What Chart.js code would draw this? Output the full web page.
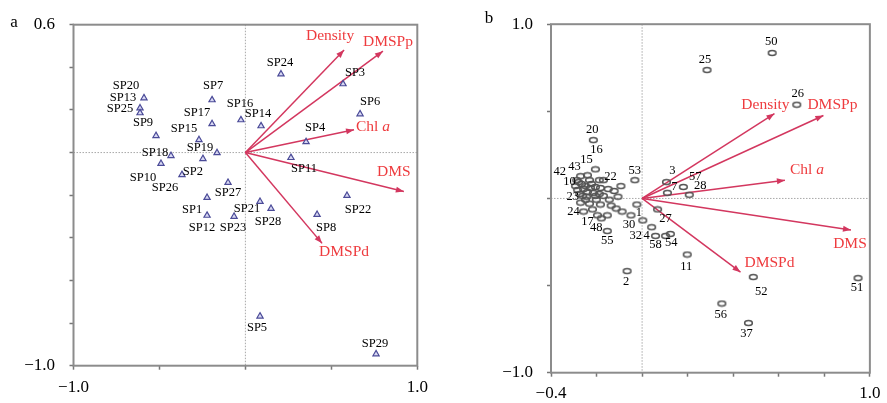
<!DOCTYPE html>
<html><head><meta charset="utf-8">
<script src="https://cdn.jsdelivr.net/npm/chart.js@4/dist/chart.umd.min.js"></script>
<style>
html,body{margin:0;padding:0;background:#fff;overflow:hidden}
#wrap{position:relative;width:887px;height:403px}
canvas{position:absolute;top:0}
#ca{left:0}
#cb{left:443px}
</style></head><body>
<div id="wrap"><canvas id="ca" width="443" height="403"></canvas><canvas id="cb" width="444" height="403"></canvas></div>
<script>
// ---------- Panel a : species (triangles) ----------
const speciesLabels = ['SP1','SP2','SP3','SP4','SP5','SP6','SP7','SP8','SP9','SP10','SP11','SP12','SP13','SP14','SP15','SP16','SP17','SP18','SP19','SP20','SP21','SP22','SP23','SP24','SP25','SP26','SP27','SP28','SP29'];
const speciesX = [-0.223,-0.247,0.568,0.353,0.085,0.667,-0.194,0.417,-0.520,-0.491,0.265,-0.223,-0.613,0.091,-0.270,-0.026,-0.194,-0.433,-0.165,-0.590,0.085,0.591,-0.066,0.207,-0.613,-0.369,-0.101,0.149,0.760];
const speciesY = [-0.211,-0.029,0.322,0.050,-0.768,0.181,0.247,-0.291,0.079,-0.052,-0.024,-0.295,0.209,0.125,0.060,0.153,0.135,-0.015,-0.001,0.256,-0.230,-0.202,-0.300,0.368,0.186,-0.104,-0.141,-0.263,-0.945];
const envLabels = ['Density','DMSPp','Chl a','DMS','DMSPd'];
const envAX = [0.574,0.800,0.632,0.922,0.446];
const envAY = [0.481,0.476,0.107,-0.183,-0.426];

// ---------- Panel b : stations (circles) ----------
const stationLabels = ['50','25','26','20','16','15','43','42','10','23','22','53','3','7','57','28','1','27','30','32','4','58','54','11','2','52','51','56','37','24','17','48','55',
  '','','','','','','','','','','','','','','','','','','','','','','','','',
  '','','','','','','','',''];
const stationX = [0.571,0.285,0.679,-0.214,-0.205,-0.240,-0.270,-0.287,-0.266,-0.261,-0.170,-0.032,0.107,0.111,0.181,0.207,-0.023,0.068,-0.049,0.003,0.042,0.059,0.124,0.198,-0.066,0.488,0.948,0.350,0.467,-0.257,-0.196,-0.179,-0.153,
  -0.248,-0.227,-0.205,-0.183,-0.240,-0.214,-0.188,-0.149,-0.123,-0.093,-0.106,-0.144,-0.201,-0.183,-0.136,-0.114,-0.088,-0.153,0.103,-0.188,-0.231,-0.283,-0.218,-0.248,-0.274,
  -0.279,-0.257,-0.222,-0.244,-0.205,-0.170,-0.270,-0.231,-0.292];
const stationY = [0.835,0.737,0.538,0.335,0.167,0.133,0.128,0.105,0.083,0.015,0.105,0.105,0.094,0.032,0.066,0.021,-0.035,-0.063,-0.097,-0.126,-0.165,-0.215,-0.204,-0.322,-0.417,-0.451,-0.457,-0.603,-0.715,-0.075,-0.097,-0.114,-0.187,
  0.071,0.060,0.066,0.060,0.038,0.032,0.026,0.054,0.043,0.071,0.010,-0.007,-0.007,-0.035,-0.041,-0.058,-0.075,-0.097,-0.215,0.105,0.105,0.049,-0.063,-0.007,0.026,
  0.094,0.054,0.083,0.010,0.015,0.015,-0.024,-0.030,0.071];
const envBX = [0.581,0.796,0.627,0.917,0.432];
const envBY = [0.487,0.476,0.105,-0.181,-0.423];

// ---------- layout (label offsets in px, style only) ----------
const speciesLabelShift = [[-15,12],[-10,13],[12,-11],[9,-14],[-3,11],[10,-12],[1,-14],[9,13],[-13,-13],[-18,14],[13,11],[-5,12],[-17,-10],[-3,-12],[-15,-11],[-1,-16],[-15,-11],[-16,-3],[-17,-5],[-18,-12],[-13,7],[11,14],[-1,11],[-1,-11],[-20,-4],[-17,13],[0,10],[-3,13],[-1,-10]];
const stationLabelShift = [[-1,-11],[-2,-10],[1,-11],[-1,-10],[1,-20],[-1,-16],[-6,-9],[-17,-8],[-12,-2],[-10,1],[7,-3],[0,-9],[6,-11],[7,-6],[12,-10],[11,-9],[2,8],[8,9],[-2,9],[-7,15],[-5,9],[0,9],[1,9],[-1,12],[-1,11],[8,15],[-1,10],[-1,11],[-2,11],[-10,0],[-10,6],[-5,9],[0,10]];
const envAShift = [[-14,-14],[5,-9],[19,-3],[-10,-20],[22,9]];
const envBShift = [[-9,-9],[9,-11],[22,-10],[-1,14],[29,-9]];

const SERIF = '"Liberation Serif","DejaVu Serif",serif';
const ARROW = '#d3375f';
const ENVTXT = '#ee3b3e';

function fmt(v){ return (v < 0 ? '\u2212' : '') + Math.abs(v).toFixed(1); }
function endTicks(min,max,step){
  return {stepSize:step, autoSkip:false, maxRotation:0, color:'#000', font:{family:SERIF,size:17},
    callback:(v)=> (Math.abs(v-min)<1e-6 || Math.abs(v-max)<1e-6) ? fmt(v) : ''};
}
const ellipse = (()=>{const c=document.createElement('canvas');c.width=11;c.height=8;const g=c.getContext('2d');
  g.strokeStyle='#545454';g.lineWidth=1.6;g.beginPath();g.ellipse(5.5,4,3.8,2.5,0,0,Math.PI*2);g.stroke();return c;})();

function drawEnvLabel(ctx,txt,x,y){
  ctx.fillStyle=ENVTXT; ctx.textBaseline='middle';
  if(txt==='Chl a'){
    ctx.font='15.5px '+SERIF; const w1=ctx.measureText('Chl ').width;
    ctx.font='italic 15.5px '+SERIF; const w2=ctx.measureText('a').width;
    const sx=x-(w1+w2)/2; ctx.textAlign='left';
    ctx.font='15.5px '+SERIF; ctx.fillText('Chl ',sx,y);
    ctx.font='italic 15.5px '+SERIF; ctx.fillText('a',sx+w1,y);
  } else { ctx.font='15.5px '+SERIF; ctx.textAlign='center'; ctx.fillText(txt,x,y); }
}

function makePlugin(cfg){
  return {
    id:'ordi'+cfg.letter,
    beforeDatasetsDraw(chart){
      const {ctx,chartArea:a,scales:{x,y}}=chart;
      ctx.save(); ctx.strokeStyle='#a8a8a8'; ctx.lineWidth=1; ctx.setLineDash([1.5,1.5]);
      const px=x.getPixelForValue(0), py=y.getPixelForValue(0);
      ctx.beginPath(); ctx.moveTo(px,a.top); ctx.lineTo(px,a.bottom); ctx.moveTo(a.left,py); ctx.lineTo(a.right,py); ctx.stroke();
      ctx.restore();
    },
    afterDatasetsDraw(chart){
      const {ctx,chartArea:a,scales:{x,y}}=chart;
      ctx.save();
      cfg.envX.forEach((ex,i)=>{
        const x0=x.getPixelForValue(0), y0=y.getPixelForValue(0);
        const x1=x.getPixelForValue(ex), y1=y.getPixelForValue(cfg.envY[i]);
        const ang=Math.atan2(y1-y0,x1-x0), L=8, W=3;
        ctx.fillStyle=ARROW; ctx.beginPath(); ctx.moveTo(x1,y1);
        ctx.lineTo(x1-L*Math.cos(ang)+W*Math.sin(ang), y1-L*Math.sin(ang)-W*Math.cos(ang));
        ctx.lineTo(x1-L*Math.cos(ang)-W*Math.sin(ang), y1-L*Math.sin(ang)+W*Math.cos(ang));
        ctx.closePath(); ctx.fill();
        drawEnvLabel(ctx,envLabels[i],x1+cfg.envShift[i][0],y1+cfg.envShift[i][1]);
      });
      ctx.fillStyle='#000'; ctx.font='12.5px '+SERIF; ctx.textAlign='center'; ctx.textBaseline='middle';
      cfg.labels.forEach((t,i)=>{ if(!t) return;
        const px=x.getPixelForValue(cfg.px[i]), py=y.getPixelForValue(cfg.py[i]);
        ctx.fillText(t,px+cfg.shift[i][0],py+cfg.shift[i][1]); });
      ctx.strokeStyle='#8c8c8c'; ctx.lineWidth=2; ctx.setLineDash([]);
      ctx.strokeRect(a.left,a.top,a.right-a.left,a.bottom-a.top);
      ctx.fillStyle='#000'; ctx.font='17px '+SERIF; ctx.textAlign='center'; ctx.textBaseline='middle';
      ctx.fillText(cfg.letter,cfg.letterPos[0],cfg.letterPos[1]);
      ctx.restore();
    }
  };
}

function buildChart(el,cfg){
  const arrowSets = cfg.envX.map((ex,i)=>({type:'line',data:[{x:0,y:0},{x:ex,y:cfg.envY[i]}],borderColor:ARROW,borderWidth:1.5,pointRadius:0,showLine:true,fill:false,order:2}));
  const pts = {type:'scatter',data:cfg.px.map((v,i)=>({x:v,y:cfg.py[i]})),pointStyle:cfg.pointStyle,pointRadius:cfg.radius,
    borderColor:cfg.ptBorder,backgroundColor:cfg.ptFill,borderWidth:1.2,order:1};
  return new Chart(el,{
    type:'scatter',
    data:{datasets:[...arrowSets,pts]},
    options:{responsive:false,animation:false,events:[],
      layout:{padding:cfg.padding},
      plugins:{legend:{display:false},tooltip:{enabled:false}},
      scales:{
        x:{type:'linear',min:cfg.xr[0],max:cfg.xr[1],ticks:{...endTicks(cfg.xr[0],cfg.xr[1],cfg.xr[2]),padding:cfg.xPad},
           grid:{drawOnChartArea:false,drawTicks:true,tickLength:4,tickColor:'#777',tickWidth:1.5},border:{display:false},
           afterFit(s){s.height=cfg.xH;}},
        y:{type:'linear',min:cfg.yr[0],max:cfg.yr[1],ticks:{...endTicks(cfg.yr[0],cfg.yr[1],cfg.yr[2]),padding:cfg.yPad},
           grid:{drawOnChartArea:false,drawTicks:true,tickLength:4,tickColor:'#777',tickWidth:1.5},border:{display:false},
           afterFit(s){s.width=cfg.yW;}}
      }},
    plugins:[makePlugin(cfg)]
  });
}

buildChart(document.getElementById('ca'),{
  letter:'a',letterPos:[14,23],
  px:speciesX,py:speciesY,labels:speciesLabels,shift:speciesLabelShift,
  envX:envAX,envY:envAY,envShift:envAShift,
  pointStyle:'triangle',radius:3.6,ptBorder:'#4b4b98',ptFill:'rgba(190,190,235,0.6)',
  xr:[-1,1,0.5],yr:[-1,0.6,0.2],
  padding:{left:0,top:23.5,right:25.7,bottom:0},xH:37.3,yW:73.5,xPad:8,yPad:14.5
});
buildChart(document.getElementById('cb'),{
  letter:'b',letterPos:[46,19],
  px:stationX,py:stationY,labels:stationLabels,shift:stationLabelShift,
  envX:envBX,envY:envBY,envShift:envBShift,
  pointStyle:ellipse,radius:4,ptBorder:'#545454',ptFill:'rgba(0,0,0,0)',
  xr:[-0.4,1.0,0.2],yr:[-1,1,0.5],
  padding:{left:0,top:16.7,right:13,bottom:0},xH:30.3,yW:108,xPad:6.5,yPad:14
});
</script>
</body></html>
